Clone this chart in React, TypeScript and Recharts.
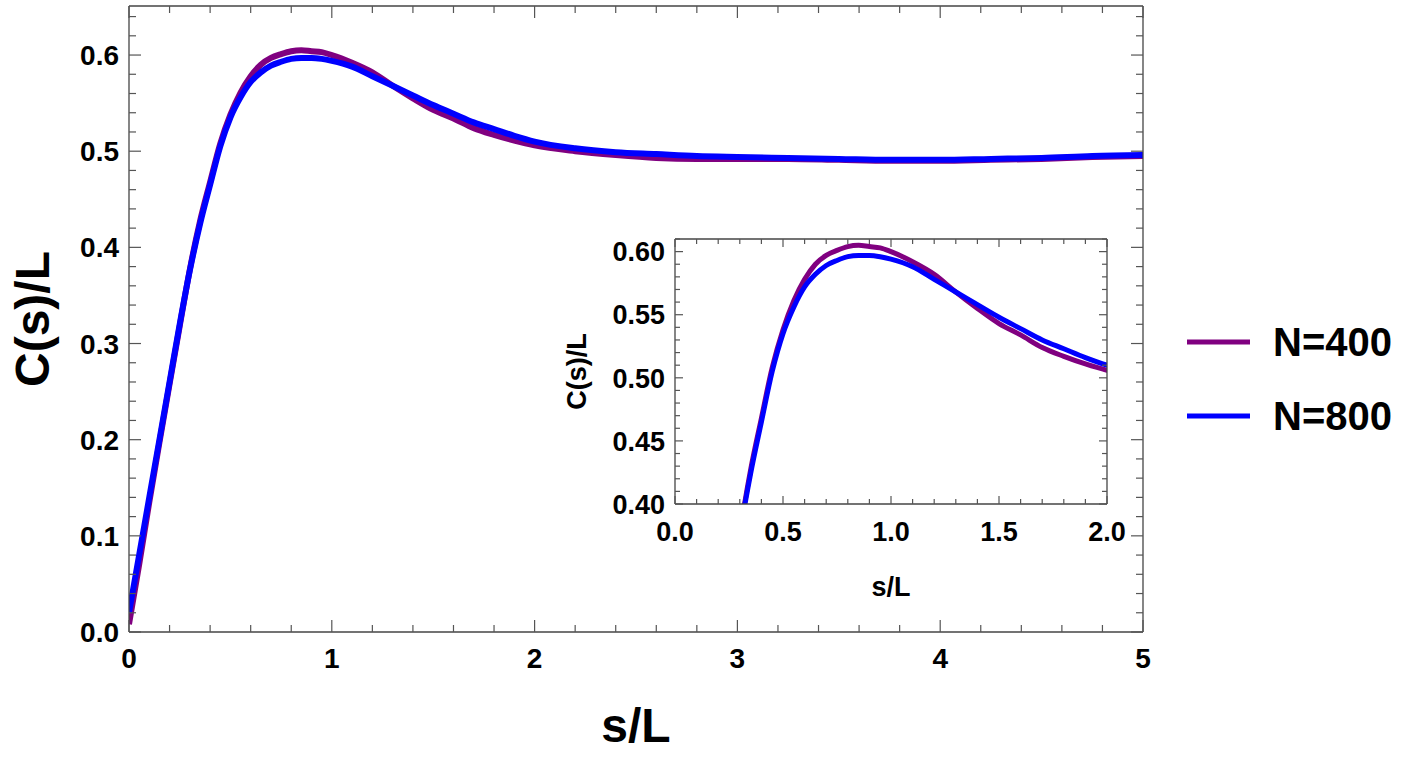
import { LineChart, Line, XAxis, YAxis } from "recharts";

// s/L sample positions
const S = [
  0, 0.05, 0.1, 0.15, 0.2, 0.25, 0.3, 0.35, 0.4, 0.45, 0.5, 0.55, 0.6, 0.65, 0.7, 0.75, 0.8, 0.85,
  0.9, 0.95, 1.0, 1.1, 1.2, 1.3, 1.4, 1.5, 1.6, 1.7, 1.8, 1.9, 2.0, 2.2, 2.4, 2.6, 2.8, 3.0, 3.25,
  3.5, 3.75, 4.0, 4.25, 4.5, 4.75, 5.0,
];

// C(s)/L, N=400
const N400 = [
  0.008, 0.07, 0.135, 0.197, 0.258, 0.318, 0.377, 0.427, 0.468, 0.508, 0.538, 0.561, 0.578, 0.59,
  0.597, 0.601, 0.604, 0.605, 0.604, 0.603, 0.6, 0.592, 0.582, 0.568, 0.555, 0.543, 0.534, 0.524,
  0.517, 0.511, 0.506, 0.5, 0.496, 0.493, 0.492, 0.492, 0.492, 0.491, 0.49, 0.49, 0.491, 0.492,
  0.494, 0.495,
];

// C(s)/L, N=800
const N800 = [
  0.02, 0.08, 0.14, 0.2, 0.26, 0.32, 0.376, 0.424, 0.465, 0.505, 0.535, 0.556, 0.572, 0.582, 0.589,
  0.593, 0.596, 0.597, 0.597, 0.596, 0.594, 0.588, 0.578, 0.568, 0.558, 0.548, 0.539, 0.53, 0.523,
  0.516, 0.51, 0.503, 0.499, 0.497, 0.495, 0.494, 0.493, 0.492, 0.491, 0.491, 0.492, 0.493, 0.495,
  0.496,
];

const SERIES = [
  { key: "n400", name: "N=400", color: "#800080" },
  { key: "n800", name: "N=800", color: "#0000ff" },
];

const data = S.map((s, i) => ({ s, n400: N400[i], n800: N800[i] }));

const FONT = '"Liberation Sans", Arial, Helvetica, sans-serif';
const FRAME = "#444";
const TICK = "#555";

function range(a: number, b: number, step: number) {
  const out: number[] = [];
  const n = Math.round((b - a) / step);
  for (let i = 0; i <= n; i++) out.push(+(a + i * step).toFixed(4));
  return out;
}

type TickOpts = {
  side: "bottom" | "top" | "left" | "right";
  majorStep: number;
  majorLen: number;
  minorLen: number;
  fmt?: (v: number) => string;
  fontSize?: number;
  gap?: number;
};

// ticks point into the frame; labels only on bottom/left majors
const makeTick = (o: TickOpts) => (props: any) => {
  const { x, y, payload } = props;
  const v = payload.value;
  const r = v / o.majorStep;
  const isMajor = Math.abs(r - Math.round(r)) < 1e-6;
  const len = isMajor ? o.majorLen : o.minorLen;
  let x2 = x;
  let y2 = y;
  if (o.side === "bottom") y2 = y - len;
  if (o.side === "top") y2 = y + len;
  if (o.side === "left") x2 = x + len;
  if (o.side === "right") x2 = x - len;
  let label = null;
  if (isMajor && o.fmt && o.fontSize) {
    if (o.side === "bottom") {
      label = (
        <text x={x} y={y + (o.gap ?? 36)} textAnchor="middle" fontSize={o.fontSize} fontWeight="bold" fontFamily={FONT} fill="#000">
          {o.fmt(v)}
        </text>
      );
    } else if (o.side === "left") {
      label = (
        <text x={x - (o.gap ?? 10)} y={y + o.fontSize * 0.36} textAnchor="end" fontSize={o.fontSize} fontWeight="bold" fontFamily={FONT} fill="#000">
          {o.fmt(v)}
        </text>
      );
    }
  }
  return (
    <g>
      <line x1={x} y1={y} x2={x2} y2={y2} stroke={TICK} strokeWidth={1.2} />
      {label}
    </g>
  );
};

const XTitle = (props: any) => {
  const { viewBox, text, dy, size } = props;
  return (
    <text x={viewBox.x + viewBox.width / 2} y={viewBox.y + dy} textAnchor="middle" fontSize={size} fontWeight="bold" fontFamily={FONT} fill="#000">
      {text}
    </text>
  );
};

const YTitle = (props: any) => {
  const { viewBox, text, cx, size } = props;
  const cy = viewBox.y + viewBox.height / 2;
  return (
    <text x={cx} y={cy} transform={`rotate(-90 ${cx} ${cy})`} textAnchor="middle" dominantBaseline="central" fontSize={size} fontWeight="bold" fontFamily={FONT} fill="#000">
      {text}
    </text>
  );
};

const axisLine = { stroke: FRAME, strokeWidth: 1.3 };

function MainChart() {
  const xTicks = range(0, 5, 0.2);
  const yTicks = range(0, 0.64, 0.02);
  return (
    <LineChart width={1412} height={759} data={data} margin={{ top: 5, left: 128, right: 268, bottom: 126 }}>
      <XAxis
        xAxisId="b"
        dataKey="s"
        type="number"
        domain={[0, 5]}
        allowDataOverflow
        ticks={xTicks}
        interval={0}
        height={1}
        tickSize={0}
        tickMargin={0}
        axisLine={axisLine}
        tickLine={false}
        tick={makeTick({ side: "bottom", majorStep: 1, majorLen: 12, minorLen: 7, fmt: (v) => String(Math.round(v)), fontSize: 28, gap: 36 })}
        label={<XTitle text="s/L" dy={110} size={48} />}
      />
      <XAxis
        xAxisId="t"
        orientation="top"
        dataKey="s"
        type="number"
        domain={[0, 5]}
        ticks={xTicks}
        interval={0}
        height={1}
        tickSize={0}
        tickMargin={0}
        axisLine={axisLine}
        tickLine={false}
        tick={makeTick({ side: "top", majorStep: 1, majorLen: 12, minorLen: 7 })}
      />
      <YAxis
        yAxisId="l"
        type="number"
        domain={[0, 0.651]}
        allowDataOverflow
        ticks={yTicks}
        interval={0}
        width={1}
        tickSize={0}
        tickMargin={0}
        axisLine={axisLine}
        tickLine={false}
        tick={makeTick({ side: "left", majorStep: 0.1, majorLen: 12, minorLen: 7, fmt: (v) => v.toFixed(1), fontSize: 28, gap: 10 })}
        label={<YTitle text="C(s)/L" cx={32} size={48} />}
      />
      <YAxis
        yAxisId="r"
        orientation="right"
        type="number"
        domain={[0, 0.651]}
        allowDataOverflow
        ticks={yTicks}
        interval={0}
        width={1}
        tickSize={0}
        tickMargin={0}
        axisLine={axisLine}
        tickLine={false}
        tick={makeTick({ side: "right", majorStep: 0.1, majorLen: 12, minorLen: 7 })}
      />
      {SERIES.map((sr) => (
        <Line
          key={sr.key}
          xAxisId="b"
          yAxisId="l"
          dataKey={sr.key}
          name={sr.name}
          type="monotone"
          stroke={sr.color}
          strokeWidth={6}
          dot={false}
          activeDot={false}
          isAnimationActive={false}
        />
      ))}
    </LineChart>
  );
}

function InsetChart() {
  const xTicks = range(0, 2, 0.1);
  const yTicks = range(0.4, 0.61, 0.01);
  return (
    <LineChart width={600} height={400} data={data} margin={{ top: 18, left: 134, right: 32, bottom: 115 }}>
      <XAxis
        xAxisId="b"
        dataKey="s"
        type="number"
        domain={[0, 2]}
        allowDataOverflow
        ticks={xTicks}
        interval={0}
        height={1}
        tickSize={0}
        tickMargin={0}
        axisLine={axisLine}
        tickLine={false}
        tick={makeTick({ side: "bottom", majorStep: 0.5, majorLen: 8, minorLen: 5, fmt: (v) => v.toFixed(1), fontSize: 27, gap: 37 })}
        label={<XTitle text="s/L" dy={92} size={27} />}
      />
      <XAxis
        xAxisId="t"
        orientation="top"
        dataKey="s"
        type="number"
        domain={[0, 2]}
        allowDataOverflow
        ticks={xTicks}
        interval={0}
        height={1}
        tickSize={0}
        tickMargin={0}
        axisLine={axisLine}
        tickLine={false}
        tick={makeTick({ side: "top", majorStep: 0.5, majorLen: 8, minorLen: 5 })}
      />
      <YAxis
        yAxisId="l"
        type="number"
        domain={[0.4, 0.61]}
        allowDataOverflow
        ticks={yTicks}
        interval={0}
        width={1}
        tickSize={0}
        tickMargin={0}
        axisLine={axisLine}
        tickLine={false}
        tick={makeTick({ side: "left", majorStep: 0.05, majorLen: 8, minorLen: 5, fmt: (v) => v.toFixed(2), fontSize: 27, gap: 10 })}
        label={<YTitle text="C(s)/L" cx={37} size={27} />}
      />
      <YAxis
        yAxisId="r"
        orientation="right"
        type="number"
        domain={[0.4, 0.61]}
        allowDataOverflow
        ticks={yTicks}
        interval={0}
        width={1}
        tickSize={0}
        tickMargin={0}
        axisLine={axisLine}
        tickLine={false}
        tick={makeTick({ side: "right", majorStep: 0.05, majorLen: 8, minorLen: 5 })}
      />
      {SERIES.map((sr) => (
        <Line
          key={sr.key}
          xAxisId="b"
          yAxisId="l"
          dataKey={sr.key}
          name={sr.name}
          type="monotone"
          stroke={sr.color}
          strokeWidth={5}
          dot={false}
          activeDot={false}
          isAnimationActive={false}
        />
      ))}
    </LineChart>
  );
}

function LegendBox() {
  return (
    <div style={{ position: "absolute", left: 1187, top: 312, fontFamily: FONT }}>
      {SERIES.map((sr) => (
        <div key={sr.key} style={{ display: "flex", alignItems: "center", height: 60, marginBottom: 14 }}>
          <svg width={63} height={10} style={{ display: "block" }}>
            <line x1={0} y1={5} x2={63} y2={5} stroke={sr.color} strokeWidth={5} />
          </svg>
          <span style={{ marginLeft: 23, fontSize: 40, fontWeight: "bold", color: "#000", lineHeight: "60px" }}>{sr.name}</span>
        </div>
      ))}
    </div>
  );
}

export default function App() {
  return (
    <div style={{ position: "absolute", left: 0, top: 0, width: 1412, height: 759, background: "#fff" }}>
      <div style={{ position: "absolute", left: 0, top: 0 }}>
        <MainChart />
      </div>
      <div style={{ position: "absolute", left: 540, top: 220 }}>
        <InsetChart />
      </div>
      <LegendBox />
    </div>
  );
}
